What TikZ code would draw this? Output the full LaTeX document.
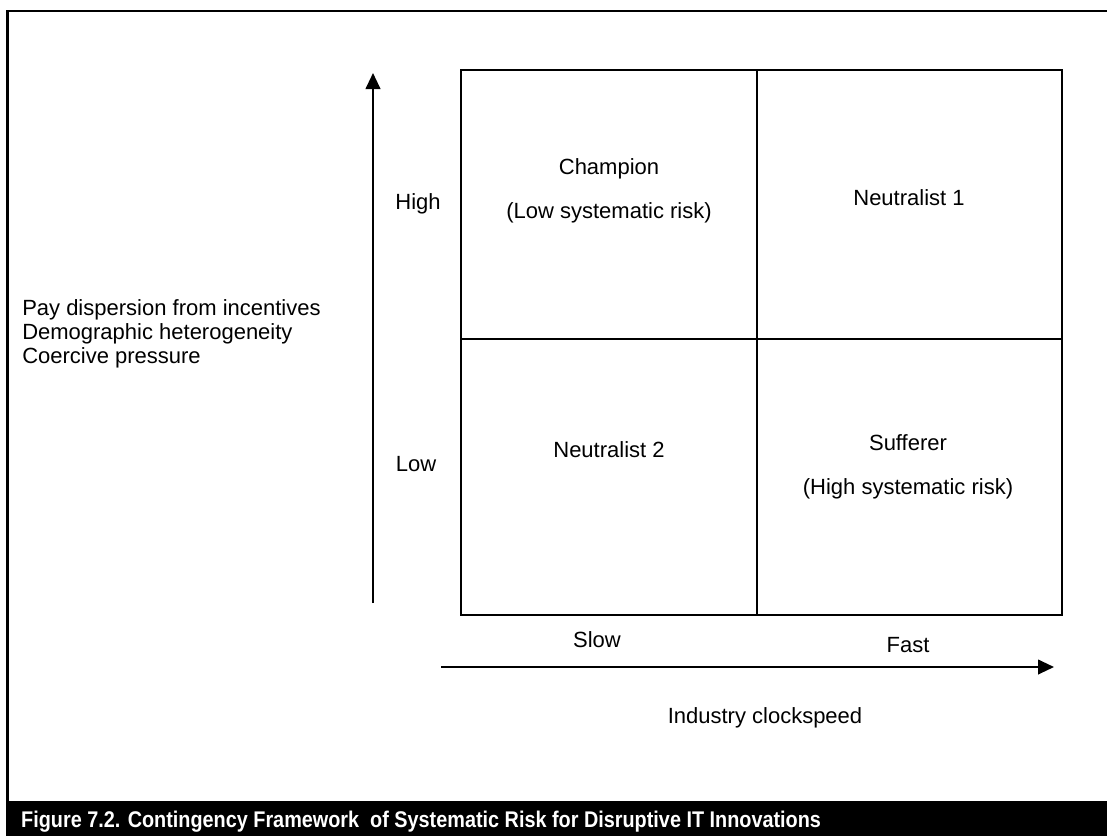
\documentclass[tikz,border=0pt]{standalone}
\usepackage{fontspec}
\setmainfont{Liberation Sans}
\usetikzlibrary{arrows.meta}
\begin{document}
\begin{tikzpicture}[x=0.75pt,y=-0.75pt,
  grid/.style={line width=2.2pt},
  axis/.style={line width=1.5pt,-{Triangle[length=12pt,width=11pt]}},
  lbl/.style={font=\fontsize{16.5}{19}\selectfont,inner sep=0pt},
  quad/.style={lbl,align=center},
  caption/.style={font=\fontsize{17}{20}\bfseries\selectfont,text=white,inner sep=0pt,anchor=west,xscale=0.875}]
\useasboundingbox (0,0) rectangle (1107,836);
% outer frame and caption bar
\draw[line width=1.6pt] (7.5,801) -- (7.5,11) -- (1107,11);
\fill[black] (6,801) rectangle (1107,836);
\node[caption] (cap) at (21,822) {Figure 7.2. Contingency Framework \ of Systematic Risk for Disruptive IT Innovations};
% 2x2 grid
\coordinate (tl) at (461,70);
\coordinate (br) at (1062,615);
\draw[grid] (tl) rectangle (br);
\draw[grid] (757,70) -- (757,615);
\draw[grid] (461,339) -- (1062,339);
% axes
\coordinate (ys) at (373,603);
\coordinate (ye) at (373,73);
\coordinate (xs) at (441,667);
\coordinate (xe) at (1054,667);
\draw[axis] (ys) -- (ye);
\draw[axis] (xs) -- (xe);
% quadrant texts
\node[quad] (champ) at (609,191) {Champion\\[14pt](Low systematic risk)};
\node[quad] (n1) at (909,198) {Neutralist 1};
\node[quad] (n2) at (609,450) {Neutralist 2};
\node[quad] (suf) at (908,467) {Sufferer\\[14pt](High systematic risk)};
% axis levels
\node[lbl] (high) at (418,204) {High};
\node[lbl] (low) at (416,464) {Low};
\node[lbl] (slow) at (597,640) {Slow};
\node[lbl] (fast) at (908,645) {Fast};
\node[lbl] (xlab) at (765,718) {Industry clockspeed};
\node[lbl,anchor=west,align=left,font=\fontsize{16.5}{18}\selectfont] (ylab) at (22,334)
  {Pay dispersion from incentives\\Demographic heterogeneity\\Coercive pressure};
\end{tikzpicture}
\end{document}
